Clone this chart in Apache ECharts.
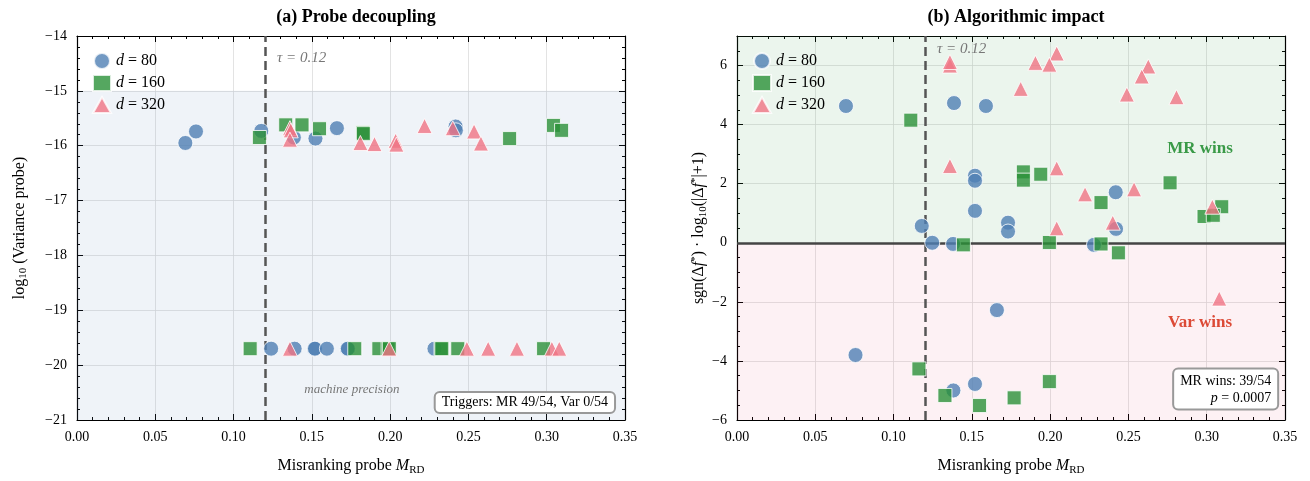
<!DOCTYPE html>
<html lang="en">
<head>
<meta charset="UTF-8" />
<title>Probe decoupling / Algorithmic impact</title>
<script src="https://cdn.jsdelivr.net/npm/echarts@6/dist/echarts.min.js"></script>
</head>
<body style="margin:0;background:#fff">
<div id="main" style="width:1310px;height:481px"></div>
<script>
const serifFont = '"Liberation Serif", "DejaVu Serif", serif';
const seriesNames = ['d=80', 'd=160', 'd=320'];

// panel (a): [M_RD, log10 variance probe]
const varD80 = [
  [0.0692, -15.95], [0.076, -15.74], [0.1177, -15.73], [0.1385, -15.85], [0.1523, -15.87],
  [0.166, -15.68], [0.2418, -15.65], [0.242, -15.72],
  [0.124, -19.7], [0.139, -19.7], [0.1516, -19.7], [0.152, -19.7], [0.1596, -19.7],
  [0.1726, -19.7], [0.173, -19.7], [0.2283, -19.7]
];
const varD160 = [
  [0.1165, -15.85], [0.1333, -15.62], [0.1437, -15.62], [0.1549, -15.69], [0.1826, -15.76],
  [0.1829, -15.78], [0.2763, -15.87], [0.3043, -15.63], [0.3095, -15.72],
  [0.1106, -19.7], [0.1774, -19.7], [0.1928, -19.7], [0.1987, -19.7], [0.1995, -19.7],
  [0.2325, -19.7], [0.233, -19.7], [0.2432, -19.7], [0.298, -19.7]
];
const varD320 = [
  [0.136, -15.68], [0.1365, -15.72], [0.136, -15.89], [0.181, -15.95], [0.190, -15.97],
  [0.2035, -15.91], [0.204, -15.98], [0.222, -15.64], [0.240, -15.68], [0.2536, -15.74],
  [0.258, -15.96],
  [0.136, -19.7], [0.1994, -19.7], [0.249, -19.7], [0.2626, -19.7], [0.281, -19.7],
  [0.3033, -19.7], [0.308, -19.7]
];

// panel (b): [M_RD, sgn(df) * log10(|df|+1)]
const impD80 = [
  [0.0696, 4.63], [0.1386, 4.73], [0.159, 4.63], [0.152, 2.27], [0.152, 2.10], [0.152, 1.08],
  [0.118, 0.57], [0.1247, 0.0], [0.138, -0.04], [0.1731, 0.68], [0.1731, 0.38], [0.2419, 1.71],
  [0.2421, 0.47], [0.228, -0.07], [0.166, -2.28], [0.0757, -3.80], [0.1382, -5.0], [0.152, -4.78]
];
const impD160 = [
  [0.111, 4.15], [0.1446, -0.07], [0.1829, 2.40], [0.1829, 2.12], [0.194, 2.32], [0.2325, 1.36],
  [0.2766, 2.03], [0.3096, 1.22], [0.2983, 0.89], [0.3042, 0.93], [0.1995, 0.01], [0.2325, -0.04],
  [0.2436, -0.34], [0.1162, -4.27], [0.1328, -5.17], [0.1549, -5.51], [0.177, -5.25], [0.1995, -4.70]
];
const impD320 = [
  [0.136, 6.0], [0.136, 6.12], [0.136, 2.6], [0.2042, 6.41], [0.1906, 6.09], [0.1995, 6.03],
  [0.1812, 5.21], [0.2627, 5.97], [0.2585, 5.63], [0.249, 5.02], [0.2807, 4.93], [0.2042, 2.52],
  [0.2223, 1.64], [0.2536, 1.81], [0.3036, 1.22], [0.2042, 0.49], [0.24, 0.68], [0.308, -1.89]
];

const tau = 0.12;

const styles = [
  { symbol: 'circle', symbolSize: 15, color: '#4f7fb4' },
  { symbol: 'rect', symbolSize: 14, color: '#2b9138' },
  { symbol: 'triangle', symbolSize: 15, color: '#f07485' }
];

const minus = v => String(v).replace('-', '\u2212');

function xAxis(gi, pos) {
  const main = pos === 'bottom';
  return {
    type: 'value', gridIndex: gi, position: pos, min: 0, max: 0.35, interval: 0.05,
    axisLine: { show: true, onZero: false, lineStyle: { color: '#000', width: 1.2 } },
    axisTick: { show: true, inside: true, length: 6, lineStyle: { color: '#000' } },
    minorTick: { show: true, splitNumber: 5, length: 3, lineStyle: { color: '#000' } },
    splitLine: { show: main, lineStyle: { color: '#dcdcdc', width: 0.8 } },
    axisLabel: {
      show: main, color: '#000', fontFamily: serifFont, fontSize: 14, margin: 10,
      formatter: v => v.toFixed(2)
    },
    name: main ? '{t|Misranking probe }{i|M}{s|RD}' : '',
    nameLocation: 'middle', nameGap: 36,
    nameTextStyle: {
      rich: {
        t: { fontFamily: serifFont, fontSize: 16, color: '#000' },
        i: { fontFamily: serifFont, fontSize: 16, fontStyle: 'italic', color: '#000' },
        s: { fontFamily: serifFont, fontSize: 11, color: '#000', padding: [9, 0, 0, 0] }
      }
    }
  };
}

function yAxis(gi, pos, min, max, step, minor, name, gap) {
  const main = pos === 'left';
  return {
    type: 'value', gridIndex: gi, position: pos, min: min, max: max, interval: step,
    axisLine: { show: true, onZero: false, lineStyle: { color: '#000', width: 1.2 } },
    axisTick: { show: true, inside: true, length: 6, lineStyle: { color: '#000' } },
    minorTick: { show: true, splitNumber: minor, length: 3, lineStyle: { color: '#000' } },
    splitLine: { show: main, lineStyle: { color: '#dcdcdc', width: 0.8 } },
    axisLabel: {
      show: main, color: '#000', fontFamily: serifFont, fontSize: 14, margin: 10,
      showMaxLabel: (max % step) === 0, formatter: minus
    },
    name: main ? name : '',
    nameLocation: 'middle', nameGap: gap || 44, nameRotate: 90,
    nameTextStyle: {
      rich: {
        t: { fontFamily: serifFont, fontSize: 16, color: '#000' },
        i: { fontFamily: serifFont, fontSize: 16, fontStyle: 'italic', color: '#000' },
        s: { fontFamily: serifFont, fontSize: 11, color: '#000', padding: [8, 0, 0, 0] },
        u: { fontFamily: serifFont, fontSize: 11, color: '#000', padding: [0, 0, 7, 0] }
      }
    }
  };
}

function scatter(name, data, k, xi, yi) {
  const s = styles[k];
  return {
    name: name, type: 'scatter', xAxisIndex: xi, yAxisIndex: yi, data: data,
    symbol: s.symbol, symbolSize: s.symbolSize, z: 5,
    itemStyle: { color: s.color, opacity: 0.8, borderColor: '#fff', borderWidth: 1 }
  };
}

const chart = echarts.init(document.getElementById('main'));

const legendBase = {
  orient: 'vertical', itemWidth: 18, itemHeight: 16, itemGap: 4,
  data: seriesNames,
  formatter: n => '{i|d} = ' + n.split('=')[1],
  textStyle: {
    fontFamily: serifFont, fontSize: 16, color: '#000',
    rich: { i: { fontFamily: serifFont, fontSize: 16, fontStyle: 'italic', color: '#000' } }
  }
};

chart.setOption({
  animation: false,
  title: [
    { text: '(a) Probe decoupling', left: 351, top: 3, textAlign: 'center',
      textStyle: { fontFamily: serifFont, fontSize: 18, fontWeight: 'bold', color: '#000' } },
    { text: '(b) Algorithmic impact', left: 1011, top: 3, textAlign: 'center',
      textStyle: { fontFamily: serifFont, fontSize: 18, fontWeight: 'bold', color: '#000' } }
  ],
  legend: [
    Object.assign({ left: 87, top: 47 }, legendBase),
    Object.assign({ left: 747, top: 47 }, legendBase)
  ],
  grid: [
    { left: 77, top: 36, width: 548, height: 384 },
    { left: 737, top: 36, width: 548, height: 385 }
  ],
  xAxis: [xAxis(0, 'bottom'), xAxis(0, 'top'), xAxis(1, 'bottom'), xAxis(1, 'top')],
  yAxis: [
    yAxis(0, 'left', -21, -14, 1, 5, '{t|log}{s|10}{t| (Variance probe)}', 48),
    yAxis(0, 'right', -21, -14, 1, 5, ''),
    yAxis(1, 'left', -6, 7, 2, 4,
      '{t|sgn(\u0394}{i|f}{u|*}{t|) \u00b7 log}{s|10}{t|(|\u0394}{i|f}{u|*}{t||+1)}', 24),
    yAxis(1, 'right', -6, 7, 2, 4, '')
  ],
  series: [
    {
      type: 'scatter', xAxisIndex: 0, yAxisIndex: 0, data: [], silent: true,
      markArea: { silent: true, itemStyle: { color: 'rgba(100,140,190,0.1)' },
        data: [[{ yAxis: -21 }, { yAxis: -15 }]] },
      markLine: { silent: true, symbol: 'none', label: { show: false },
        lineStyle: { color: '#555', width: 2.5, type: [9, 5] },
        data: [{ xAxis: tau }] }
    },
    scatter(seriesNames[0], varD80, 0, 0, 0),
    scatter(seriesNames[1], varD160, 1, 0, 0),
    scatter(seriesNames[2], varD320, 2, 0, 0),
    {
      type: 'scatter', xAxisIndex: 2, yAxisIndex: 2, data: [], silent: true,
      markArea: { silent: true,
        data: [
          [{ yAxis: 0, itemStyle: { color: 'rgba(60,160,80,0.1)' } }, { yAxis: 7 }],
          [{ yAxis: -6, itemStyle: { color: 'rgba(220,60,100,0.07)' } }, { yAxis: 0 }]
        ] },
      markLine: { silent: true, symbol: 'none', label: { show: false },
        data: [
          { xAxis: tau, lineStyle: { color: '#555', width: 2.5, type: [9, 5] } },
          { yAxis: 0, lineStyle: { color: '#444', width: 2.5, type: 'solid' } }
        ] }
    },
    scatter(seriesNames[0], impD80, 0, 2, 2),
    scatter(seriesNames[1], impD160, 1, 2, 2),
    scatter(seriesNames[2], impD320, 2, 2, 2)
  ]
});

// annotations placed through the axes
const pa = p => chart.convertToPixel({ gridIndex: 0 }, p);
const pb = p => chart.convertToPixel({ gridIndex: 1 }, p);
const tauA = pa([tau, -14.4]);
const tauB = pb([tau, 6.55]);
const mp = pa([0.1756, -20.45]);
const trig = pa([0.343, -20.68]);
const mrw = pb([0.2957, 3.2]);
const vw = pb([0.2957, -2.7]);
const box = pb([0.345, -4.95]);

const txt = (x, y, text, extra) => ({
  type: 'text', x: x, y: y, z: 20,
  style: Object.assign({ text: text, fontFamily: serifFont, fontSize: 14, fill: '#000',
    verticalAlign: 'middle' }, extra)
});

chart.setOption({
  graphic: [
    txt(tauA[0] + 12, tauA[1], '\u03c4 = 0.12', { fill: '#777', fontStyle: 'italic', fontSize: 15 }),
    txt(tauB[0] + 12, tauB[1], '\u03c4 = 0.12', { fill: '#777', fontStyle: 'italic', fontSize: 15 }),
    txt(mp[0], mp[1], 'machine precision', { fill: '#777', fontStyle: 'italic', fontSize: 13, align: 'center' }),
    txt(trig[0], trig[1], 'Triggers: MR 49/54, Var 0/54', {
      align: 'right', backgroundColor: '#fff', borderColor: '#999', borderWidth: 2,
      borderRadius: 4, padding: [3, 6, 2, 6]
    }),
    txt(mrw[0], mrw[1], 'MR wins', { align: 'center', fontSize: 17, fontWeight: 'bold', fill: '#3a9a48' }),
    txt(vw[0], vw[1], 'Var wins', { align: 'center', fontSize: 17, fontWeight: 'bold', fill: '#dc4a36' }),
    txt(box[0], box[1], 'MR wins: 39/54\n{i|p} = 0.0007', {
      align: 'right', lineHeight: 17, backgroundColor: '#fff', borderColor: '#999', borderWidth: 2,
      borderRadius: 4, padding: [3, 6, 2, 6],
      rich: { i: { fontFamily: serifFont, fontSize: 14, fontStyle: 'italic' } }
    })
  ]
});
</script>
</body>
</html>
